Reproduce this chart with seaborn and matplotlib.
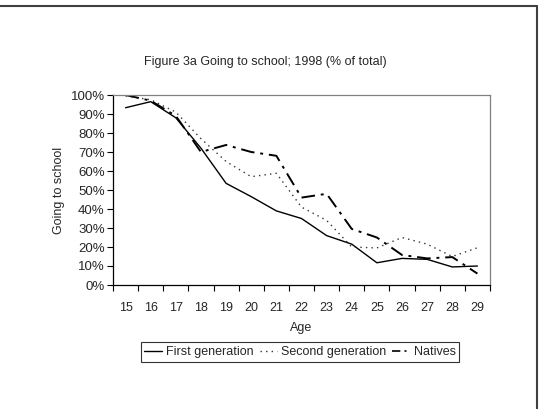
import matplotlib
matplotlib.use("Agg")
import matplotlib.pyplot as plt
from matplotlib.lines import Line2D
import seaborn as sns
import pandas as pd
import numpy as np

ages = [15, 16, 17, 18, 19, 20, 21, 22, 23, 24, 25, 26, 27, 28, 29]
first_gen = [93.3, 96.5, 88, 72, 53.5, 46.5, 39, 35, 26, 21.5, 11.7, 14, 13.5, 9.5, 10]
second_gen = [99.5, 97.5, 91, 77, 65, 57, 58.8, 41, 34, 20, 19.5, 25, 21.5, 15, 19.6]
natives = [100, 97, 89, 70, 73.7, 70, 68, 46, 48, 29.5, 25, 15.8, 14, 14.7, 6]
series_names = ["First generation", "Second generation", "Natives"]

sns.set_style("white")
plt.rcParams["font.family"] = ["Liberation Sans", "DejaVu Sans"]

rows = []
for name, vals in zip(series_names, [first_gen, second_gen, natives]):
    for i, (a, v) in enumerate(zip(ages, vals)):
        rows.append({"pos": i, "Age": a, "value": v, "series": name})
df = pd.DataFrame(rows)

fig = plt.figure(figsize=(5.44, 4.09), dpi=100)
ax = fig.add_axes([113/544, 1-285/409, (490-113)/544, (285-95)/409])

palette = {n: "black" for n in series_names}
dashes = {"First generation": "", "Second generation": (1, 3), "Natives": (7, 3, 1.5, 3)}
sns.lineplot(data=df, x="pos", y="value", hue="series", style="series",
             palette=palette, dashes=dashes, linewidth=1.0, ax=ax, legend=False)
lines = ax.get_lines()
if len(lines) >= 3:
    lines[2].set_linewidth(1.4)
    lines[1].set_color("#333333")

ax.set_xlim(-0.5, len(ages) - 0.5)
ax.set_ylim(0, 100)
ax.set_xticks(range(len(ages)))
ax.set_xticklabels([str(a) for a in ages])
ax.set_xticks(np.arange(-0.5, len(ages), 1), minor=True)
ax.tick_params(axis="x", which="major", length=0, pad=12, labelsize=9)
ax.tick_params(axis="x", which="minor", length=4, width=0.8, color="black", direction="out", bottom=True)
ax.set_yticks(range(0, 101, 10))
ax.set_yticklabels([f"{v}%" for v in range(0, 101, 10)])
ax.tick_params(axis="y", length=4, width=0.8, color="black", direction="out", left=True, labelsize=9.5, pad=2)

for s in ["left", "bottom"]:
    ax.spines[s].set_color("black")
    ax.spines[s].set_linewidth(0.9)
for s in ["top", "right"]:
    ax.spines[s].set_color("#808080")
    ax.spines[s].set_linewidth(0.9)

ax.set_xlabel("Age", fontsize=9, labelpad=6)
ax.set_ylabel("Going to school", fontsize=9, labelpad=4)
fig.text(265/544, 1-62/409, "Figure 3a Going to school; 1998 (% of total)",
         ha="center", va="center", fontsize=9)

handles = [Line2D([0], [0], color="black", lw=1.0, linestyle="-"),
           Line2D([0], [0], color="#333333", lw=1.0, linestyle=(0, (1, 3))),
           Line2D([0], [0], color="black", lw=1.2, linestyle=(0, (5, 2.5, 1.2, 2.5)))]
leg = fig.legend(handles, series_names, loc="center", bbox_to_anchor=(300/544, 1-352/409),
                 ncol=3, fontsize=9, frameon=True, fancybox=False, handlelength=1.4,
                 handletextpad=0.3, columnspacing=0.5, borderpad=0.3, edgecolor="black")
leg.get_frame().set_linewidth(0.8)

fig.add_artist(Line2D([0, 537/544], [1-6/409, 1-6/409], transform=fig.transFigure, color="#404040", lw=1.5))
fig.add_artist(Line2D([537/544, 537/544], [0, 1-6/409], transform=fig.transFigure, color="#404040", lw=1.5))

fig.savefig("out.png", dpi=100)
